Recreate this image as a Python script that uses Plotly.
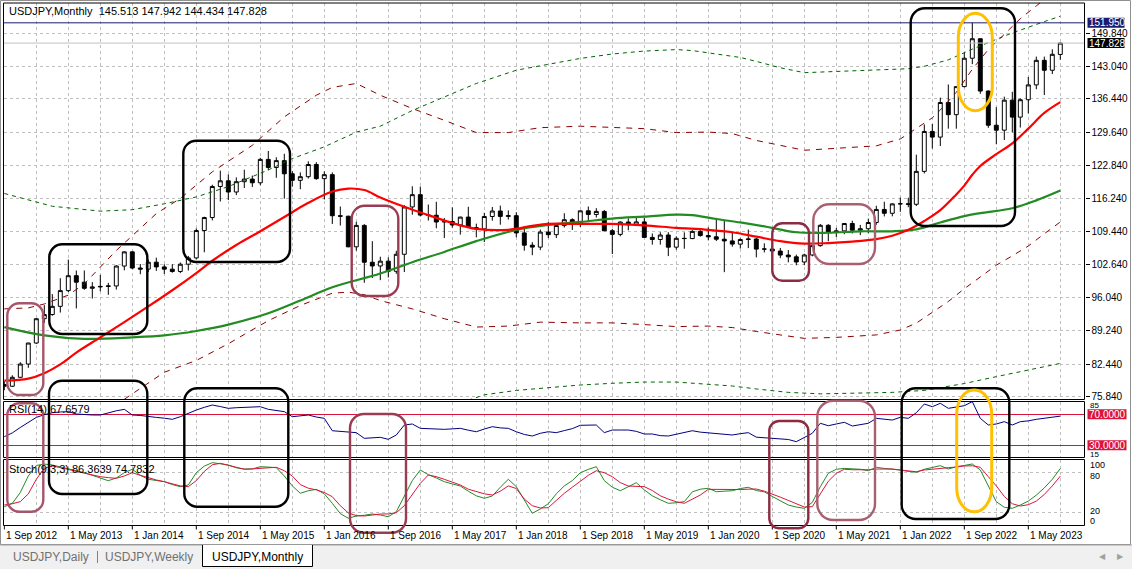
import plotly.graph_objects as go

W, H = 1132, 569

# ---------------- data (monthly USDJPY, Sep 2012 .. Sep 2023) ----------------
opens = [78.30, 77.95, 79.77, 82.47, 86.75, 91.70, 92.55, 94.22, 97.42, 100.46,
         99.14, 97.89, 98.17, 98.27, 98.37, 102.43, 105.31, 102.02, 101.80, 103.21,
         102.25, 101.79, 101.32, 102.80, 104.08, 109.65, 112.30, 118.63, 119.78, 117.50,
         119.60, 120.13, 119.38, 124.14, 122.50, 123.89, 121.21, 119.88, 120.62, 123.10,
         120.22, 121.03, 112.67, 112.57, 106.34, 110.70, 103.20, 102.44, 103.42, 101.35,
         104.82, 114.46, 116.96, 112.80, 112.77, 111.39, 111.49, 110.78, 112.39, 110.26,
         109.99, 112.51, 113.63, 112.53, 112.68, 109.17, 106.67, 106.28, 109.34, 108.81,
         110.67, 111.86, 111.03, 113.67, 112.93, 113.55, 109.61, 108.87, 111.38, 110.84,
         111.41, 108.26, 107.83, 108.74, 106.27, 108.07, 108.02, 109.48, 108.63, 108.38,
         107.89, 107.54, 106.89, 107.83, 107.93, 105.87, 105.89, 105.48, 104.66, 104.30,
         103.25, 104.68, 106.58, 110.72, 109.31, 109.58, 111.09, 109.71, 110.02, 111.29,
         113.95, 113.17, 115.08, 115.11, 115.00, 121.70, 129.83, 128.68, 135.72, 133.25,
         138.96, 144.74, 148.71, 138.06, 131.10, 130.09, 136.20, 132.75, 136.29, 139.31,
         144.31, 142.29, 145.513]
highs = [78.95, 80.19, 82.84, 86.79, 91.76, 94.45, 96.71, 99.95, 103.74, 101.51,
         101.53, 99.15, 100.62, 99.00, 102.58, 105.41, 105.44, 102.84, 103.76, 104.13,
         102.79, 102.80, 103.15, 104.49, 110.09, 112.47, 118.98, 121.85, 121.10, 120.48,
         122.04, 120.84, 124.46, 125.85, 124.58, 125.28, 121.75, 121.49, 123.75, 123.58,
         121.69, 121.49, 114.55, 112.68, 111.44, 110.95, 107.49, 104.32, 104.18, 105.54,
         114.83, 118.66, 118.60, 114.95, 115.51, 112.20, 114.37, 112.47, 114.49, 111.05,
         113.26, 114.45, 114.73, 113.75, 113.39, 110.48, 107.29, 109.85, 111.40, 110.90,
         113.18, 112.15, 113.70, 114.55, 114.21, 113.83, 110.00, 111.52, 112.14, 112.40,
         112.25, 109.05, 109.32, 109.32, 108.48, 109.29, 109.73, 109.72, 110.30, 112.23,
         111.71, 109.38, 108.08, 109.85, 108.16, 107.05, 106.55, 106.11, 105.68, 104.75,
         104.94, 106.69, 110.97, 110.96, 110.20, 111.11, 111.66, 110.80, 112.08, 114.70,
         115.52, 115.20, 116.35, 116.34, 125.10, 131.26, 131.35, 136.71, 139.39, 139.08,
         145.90, 151.95, 148.82, 138.18, 134.77, 136.92, 137.91, 136.56, 140.93, 145.07,
         145.07, 146.56, 147.942]
lows = [77.13, 77.81, 79.66, 81.70, 86.55, 90.85, 92.30, 92.96, 97.11, 93.79,
        97.58, 95.81, 97.28, 96.56, 97.63, 101.55, 101.78, 100.76, 101.20, 101.43,
        100.82, 101.07, 100.98, 101.51, 103.76, 105.23, 111.72, 115.57, 115.86, 116.87,
        118.32, 118.53, 118.88, 121.93, 120.40, 116.15, 118.60, 118.07, 120.25, 119.99,
        115.98, 110.99, 110.67, 106.25, 105.55, 99.02, 99.99, 99.55, 100.09, 100.84,
        101.20, 112.88, 112.53, 111.69, 110.11, 108.13, 110.24, 108.82, 110.20, 108.27,
        107.32, 111.66, 110.84, 111.89, 108.28, 105.55, 104.63, 105.66, 108.11, 108.12,
        110.27, 109.78, 110.38, 111.37, 112.30, 109.55, 104.87, 108.49, 109.70, 110.80,
        108.25, 106.78, 106.78, 104.45, 105.74, 105.94, 107.89, 108.42, 107.65, 107.52,
        101.18, 106.36, 105.99, 106.07, 104.19, 105.20, 104.00, 104.03, 103.18, 102.59,
        102.59, 104.41, 106.36, 107.48, 108.34, 108.91, 109.06, 108.72, 109.11, 110.82,
        112.53, 112.55, 113.47, 114.41, 114.65, 121.28, 126.36, 126.86, 130.40, 130.39,
        138.80, 143.53, 137.50, 130.57, 127.22, 128.08, 129.64, 130.63, 133.50, 138.43,
        137.24, 141.51, 144.434]
closes = [77.95, 79.77, 82.47, 86.75, 91.70, 92.55, 94.22, 97.42, 100.46, 99.14,
          97.89, 98.17, 98.27, 98.37, 102.43, 105.31, 102.02, 101.80, 103.21, 102.25,
          101.79, 101.32, 102.80, 104.08, 109.65, 112.30, 118.63, 119.78, 117.50, 119.60,
          120.13, 119.38, 124.14, 122.50, 123.89, 121.21, 119.88, 120.62, 123.10, 120.22,
          121.03, 112.67, 112.57, 106.34, 110.70, 103.20, 102.44, 103.42, 101.35, 104.82,
          114.46, 116.96, 112.80, 112.77, 111.39, 111.49, 110.78, 112.39, 110.26, 109.99,
          112.51, 113.63, 112.53, 112.68, 109.17, 106.67, 106.28, 109.34, 108.81, 110.67,
          111.86, 111.03, 113.67, 112.93, 113.55, 109.61, 108.87, 111.38, 110.84, 111.41,
          108.26, 107.83, 108.74, 106.27, 108.07, 108.02, 109.48, 108.63, 108.38, 107.89,
          107.54, 106.89, 107.83, 107.93, 105.87, 105.89, 105.48, 104.66, 104.30, 103.25,
          104.68, 106.58, 110.72, 109.31, 109.58, 111.09, 109.71, 110.02, 111.29, 113.95,
          113.17, 115.08, 115.11, 115.00, 121.70, 129.83, 128.68, 135.72, 133.25, 138.96,
          144.74, 148.71, 138.06, 131.10, 130.09, 136.20, 132.75, 136.29, 139.31, 144.31,
          142.29, 145.54, 147.828]
bars = list(range(len(closes)))

# moving averages / envelopes: (bar index, value)
red_ma_idx = [0, 3, 5, 7, 9, 12, 15, 18, 21, 24, 26, 29, 32, 35, 38, 41, 43, 45, 47, 50, 53, 56, 59, 63,
              66, 68, 72, 76, 80, 84, 88, 91, 94, 97, 100, 103, 106, 109, 111, 113, 115, 117, 119,
              120, 121, 122, 124, 126, 128, 130, 132]
red_ma_val = [79.1, 79.5, 80.6, 82.4, 84.8, 87.9, 91.0, 94.2, 97.5, 101.0, 103.5, 106.7, 109.5, 112.4,
              115.3, 117.6, 118.2, 117.9, 116.4, 114.5, 112.8, 111.2, 110.0, 109.8, 110.6, 111.0, 111.0,
              111.0, 110.7, 110.2, 109.8, 109.3, 108.4, 107.5, 107.0, 107.1, 107.4, 107.9, 108.6, 109.8,
              111.6, 113.8, 117.0, 118.8, 121.0, 122.8, 125.2, 127.4, 130.4, 133.6, 135.8]
green_ma_idx = [0, 5, 10, 16, 20, 24, 28, 33, 37, 41, 47, 51, 55, 59, 64, 68, 72, 76, 80, 84, 86, 89, 92,
                95, 99, 103, 107, 111, 114, 117, 120, 122, 126, 129, 132]
green_ma_val = [90.0, 88.3, 87.6, 87.9, 88.3, 89.2, 90.5, 92.8, 95.4, 98.1, 100.9, 103.2, 105.3, 107.5,
                109.8, 110.8, 111.4, 112.1, 112.5, 112.9, 112.8, 112.0, 111.3, 110.5, 109.3, 109.2, 109.5,
                109.5, 109.9, 111.3, 112.6, 113.2, 114.2, 115.8, 117.8]
env_up_idx = [0, 3, 5, 8, 10, 14, 19, 22, 26, 31, 35, 39, 41, 44, 47, 51, 55, 59, 63, 67, 72, 76, 80, 84,
              88, 91, 94, 97, 100, 104, 109, 112, 114, 116, 117, 119, 121, 123, 125, 127, 129, 130]
env_up_val = [93.7, 93.9, 94.7, 96.5, 98.8, 105.6, 113.1, 116.2, 121.6, 127.0, 132.8, 137.2, 138.8, 139.6,
              137.2, 134.5, 132.1, 129.6, 129.6, 130.6, 130.9, 130.6, 130.4, 129.6, 129.7, 129.4, 128.0,
              127.0, 126.0, 126.4, 126.9, 128.3, 130.5, 132.6, 134.2, 137.8, 142.5, 146.5, 149.6, 152.8,
              155.4, 156.7]
env_dn_idx = [15, 17, 20, 24, 28, 30, 33, 37, 41, 43, 45, 47, 51, 55, 59, 63, 67, 72, 76, 80, 84, 88, 91,
              94, 97, 100, 104, 109, 112, 114, 116, 118, 120, 122, 124, 126, 128, 130, 132]
env_dn_val = [75.3, 77.5, 80.8, 83.2, 86.6, 88.5, 91.3, 94.4, 96.9, 97.1, 96.6, 95.4, 93.7, 91.7, 90.0,
              90.2, 91.0, 90.85, 90.85, 90.5, 90.1, 90.2, 89.9, 89.1, 88.4, 87.7, 87.9, 88.4, 89.4, 90.8,
              93.0, 95.2, 97.8, 100.2, 102.6, 104.5, 106.5, 109.0, 111.4]
band_up_idx = [0, 6, 12, 16, 20, 24, 28, 33, 36, 40, 44, 47, 51, 55, 59, 64, 68, 72, 76, 80, 84, 86, 89,
               92, 94, 97, 100, 104, 109, 113, 115, 118, 121, 126, 130, 132]
band_up_val = [117.2, 114.6, 113.6, 113.9, 115.1, 116.5, 118.6, 122.0, 124.3, 126.7, 129.7, 130.9, 134.1,
               136.9, 139.6, 142.3, 143.5, 144.7, 145.6, 146.2, 146.5, 146.3, 145.6, 144.9, 144.1, 142.8,
               141.8, 142.0, 142.4, 142.6, 143.1, 144.4, 146.6, 149.9, 152.2, 153.3]
band_dn_idx = [58, 60, 64, 68, 72, 76, 80, 84, 88, 91, 94, 98, 102, 107, 111, 115, 118, 120, 124, 128, 132]
band_dn_val = [75.1, 76.2, 77.1, 77.7, 78.2, 78.55, 78.8, 78.8, 78.4, 78.0, 77.4, 76.7, 76.4, 76.6, 76.7,
               77.1, 77.9, 78.5, 79.9, 81.2, 82.6]

rsi = [41.1, 46.0, 53.0, 60.0, 66.0, 69.5, 72.0, 73.0, 73.4, 70.4,
       69.5, 69.1, 69.1, 72.1, 74.5, 76.4, 69.1, 68.5, 67.0, 66.0,
       65.0, 63.5, 66.9, 71.3, 75.5, 79.0, 82.0, 80.0, 77.7, 78.5,
       79.0, 79.5, 79.8, 76.4, 74.5, 73.4, 66.9, 68.0, 69.1, 66.5,
       64.8, 48.8, 48.0, 47.5, 46.3, 39.0, 39.5, 40.3, 37.7, 43.3,
       56.2, 57.5, 51.9, 51.5, 51.0, 50.6, 51.2, 51.9, 49.5, 47.5,
       51.0, 54.0, 52.5, 51.9, 47.5, 44.0, 42.0, 45.5, 47.5, 46.3,
       49.0, 51.5, 55.8, 56.2, 56.2, 46.3, 49.7, 49.7, 49.7, 48.0,
       44.6, 44.6, 42.5, 42.0, 44.0, 46.0, 48.8, 47.0, 46.3, 45.5,
       44.5, 43.3, 45.0, 46.3, 40.5, 39.8, 39.5, 38.5, 37.5, 34.7,
       40.0, 45.5, 58.4, 55.3, 57.5, 59.7, 54.9, 57.0, 58.4, 64.8,
       63.5, 62.6, 66.1, 64.8, 72.0, 83.3, 79.8, 84.2, 77.7, 79.8,
       81.1, 86.3, 64.8, 56.2, 57.5, 60.5, 56.2, 60.5, 61.5, 63.5,
       64.8, 66.9, 67.6579]
stoch_k = [28.5, 33.6, 50.0, 75.0, 91.0, 93.0, 91.7, 89.0, 86.5, 83.0,
           80.0, 76.0, 72.0, 67.9, 72.0, 80.0, 85.2, 76.0, 70.0, 68.0,
           66.4, 62.0, 58.8, 61.4, 80.0, 90.0, 95.2, 93.5, 91.7, 87.5,
           85.6, 85.6, 89.1, 88.5, 87.6, 75.0, 60.0, 48.8, 52.7, 54.8,
           48.0, 33.6, 18.0, 11.0, 14.4, 15.5, 17.4, 15.9, 13.3, 20.9,
           45.0, 68.0, 84.1, 77.0, 72.0, 66.4, 63.0, 59.8, 52.0, 45.0,
           41.2, 44.7, 58.0, 70.0, 58.8, 38.0, 18.5, 25.0, 33.0, 48.0,
           60.0, 68.0, 80.0, 85.0, 89.1, 68.0, 58.0, 52.7, 59.0, 64.8,
           54.0, 45.0, 39.0, 33.6, 34.5, 36.1, 51.0, 55.0, 56.4, 51.2,
           52.0, 52.7, 56.0, 57.9, 53.0, 51.0, 44.0, 38.0, 31.0, 28.0,
           26.0, 35.0, 58.8, 79.1, 85.2, 86.5, 86.2, 85.2, 83.0, 88.2,
           86.5, 85.6, 84.1, 82.0, 80.6, 85.2, 88.0, 90.6, 85.6, 89.1,
           91.0, 93.2, 84.1, 58.8, 36.1, 27.6, 26.0, 31.0, 37.0, 46.0,
           57.0, 70.0, 86.3639]
stoch_d = [31.1, 33.0, 36.1, 48.0, 70.0, 86.7, 90.2, 88.0, 85.0, 82.0,
           79.0, 76.5, 74.0, 72.5, 71.5, 75.0, 80.0, 76.0, 72.0, 69.0,
           66.4, 63.0, 60.0, 58.8, 68.0, 82.0, 92.0, 94.2, 91.0, 88.0,
           85.2, 85.8, 86.7, 87.5, 88.2, 83.0, 75.0, 62.0, 56.5, 54.0,
           50.0, 43.6, 30.0, 19.0, 15.0, 14.4, 16.0, 17.4, 17.5, 19.4,
           30.0, 47.0, 63.9, 76.5, 74.0, 70.0, 66.0, 61.4, 55.0, 51.2,
           48.0, 46.2, 52.0, 60.0, 56.0, 40.0, 30.0, 26.5, 27.0, 38.0,
           48.8, 58.0, 67.0, 76.0, 83.0, 80.0, 73.9, 65.0, 59.8, 59.3,
           58.8, 53.0, 45.0, 40.0, 36.0, 33.6, 40.0, 46.2, 54.8, 54.5,
           54.0, 53.8, 54.5, 55.0, 55.3, 52.0, 48.0, 43.0, 38.0, 33.0,
           28.0, 28.5, 48.0, 67.0, 79.1, 85.2, 84.5, 84.1, 84.5, 85.5,
           86.0, 85.6, 84.0, 82.5, 81.5, 84.1, 85.5, 87.0, 87.6, 88.5,
           90.2, 90.5, 88.2, 73.9, 60.0, 44.0, 33.0, 29.5, 31.5, 37.0,
           47.0, 60.0, 74.7832]

price_ticks = [75.84, 82.44, 89.24, 96.04, 102.64, 109.44, 116.24, 122.84, 129.64, 136.44, 143.04, 149.84]
date_tick_idx = list(range(0, 129, 8))
date_tick_labels = ["1 Sep 2012", "1 May 2013", "1 Jan 2014", "1 Sep 2014", "1 May 2015", "1 Jan 2016",
                    "1 Sep 2016", "1 May 2017", "1 Jan 2018", "1 Sep 2018", "1 May 2019", "1 Jan 2020",
                    "1 Sep 2020", "1 May 2021", "1 Jan 2022", "1 Sep 2022", "1 May 2023"]
hline_level = 151.95
last_close = 147.828
rsi_levels = [70, 30]
stoch_levels = [80, 20]

# ---------------- geometry helpers ----------------
def X(px):
    return px / W

def Y(py):
    return 1 - py / H

PL, PR = 3.5, 1084.5
MAIN_T, MAIN_B = 3.0, 399.5
RSI_T, RSI_B = 401.5, 457.5
STO_T, STO_B = 459.5, 525.5

def price_at(py):
    return 75.84 + (396.6 - py) / 4.911

def rsi_at(py):
    return 70 - (py - 414.3) / 0.775

def bar_at(px):
    return (px - 4.3) / 8.0

def price_y(p):
    return 396.6 - (p - 75.84) * 4.911

def rsi_y(v):
    return 414.3 - (v - 70) * 0.775

FONT = "Liberation Sans, Arial, sans-serif"

fig = go.Figure()

fig.add_trace(go.Candlestick(
    x=bars, open=opens, high=highs, low=lows, close=closes,
    increasing=dict(line=dict(color="black", width=1), fillcolor="white"),
    decreasing=dict(line=dict(color="black", width=1), fillcolor="black"),
    whiskerwidth=0, xaxis="x", yaxis="y", showlegend=False, hoverinfo="skip"))

fig.add_trace(go.Scatter(x=band_up_idx, y=band_up_val, mode="lines",
                         line=dict(color="#006400", width=1, dash="4px,4px"), xaxis="x", yaxis="y"))
fig.add_trace(go.Scatter(x=band_dn_idx, y=band_dn_val, mode="lines",
                         line=dict(color="#006400", width=1, dash="4px,4px"), xaxis="x", yaxis="y"))
fig.add_trace(go.Scatter(x=env_up_idx, y=env_up_val, mode="lines",
                         line=dict(color="#8b0000", width=1, dash="6px,6px"), xaxis="x", yaxis="y"))
fig.add_trace(go.Scatter(x=env_dn_idx, y=env_dn_val, mode="lines",
                         line=dict(color="#8b0000", width=1, dash="6px,6px"), xaxis="x", yaxis="y"))
fig.add_trace(go.Scatter(x=green_ma_idx, y=green_ma_val, mode="lines", line_shape="spline",
                         line=dict(color="#228b22", width=2.2), xaxis="x", yaxis="y"))
fig.add_trace(go.Scatter(x=red_ma_idx, y=red_ma_val, mode="lines", line_shape="spline",
                         line=dict(color="#ff0000", width=2.2), xaxis="x", yaxis="y"))

fig.add_trace(go.Scatter(x=bars, y=rsi, mode="lines", line=dict(color="#000080", width=1),
                         xaxis="x", yaxis="y2"))
fig.add_trace(go.Scatter(x=bars, y=stoch_k, mode="lines", line=dict(color="#228b22", width=1),
                         xaxis="x", yaxis="y3"))
fig.add_trace(go.Scatter(x=bars, y=stoch_d, mode="lines", line=dict(color="#dc143c", width=1),
                         xaxis="x", yaxis="y3"))

GRID = "#c0c0c0"
fig.update_layout(
    width=W, height=H, margin=dict(l=0, r=0, t=0, b=0),
    paper_bgcolor="white", plot_bgcolor="white", showlegend=False,
    hovermode=False,
    xaxis=dict(domain=[X(PL), X(PR)], range=[bar_at(PL), bar_at(PR)], anchor="y3",
               tickmode="array", tickvals=list(range(0, 136, 4)), showticklabels=False, ticks="",
               showgrid=True, gridcolor=GRID, griddash="3px,3px", gridwidth=1,
               zeroline=False, showline=False, rangeslider=dict(visible=False), fixedrange=True),
    yaxis=dict(domain=[Y(MAIN_B), Y(MAIN_T)], range=[price_at(MAIN_B), price_at(MAIN_T)],
               side="right", anchor="x", tickmode="array", tickvals=price_ticks,
               ticktext=[f"{v:.3f}" for v in price_ticks], ticks="outside", ticklen=4,
               tickcolor="black", tickfont=dict(family=FONT, size=10, color="black"),
               showgrid=True, gridcolor=GRID, griddash="3px,3px", zeroline=False,
               showline=False, automargin=False),
    yaxis2=dict(domain=[Y(RSI_B), Y(RSI_T)], range=[rsi_at(RSI_B), rsi_at(RSI_T)], side="right",
                anchor="x", tickmode="array", tickvals=rsi_levels, showticklabels=False, ticks="",
                showgrid=True, gridcolor="#dc143c", gridwidth=1, zeroline=False, automargin=False),
    yaxis3=dict(domain=[Y(STO_B), Y(STO_T)], range=[0, 100], side="right", anchor="x",
                tickmode="array", tickvals=stoch_levels, showticklabels=False, ticks="",
                showgrid=True, gridcolor=GRID, griddash="3px,3px", zeroline=False, automargin=False),
)

shapes = []
# horizontal price lines
shapes.append(dict(type="line", xref="paper", yref="y", x0=X(PL), x1=X(PR), y0=hline_level,
                   y1=hline_level, line=dict(color="#1c1c6e", width=1)))
shapes.append(dict(type="line", xref="paper", yref="y", x0=X(PL), x1=X(PR), y0=last_close,
                   y1=last_close, line=dict(color="#c0c0c0", width=1)))
# panel frames
for t, b in [(MAIN_T, MAIN_B), (RSI_T, RSI_B), (STO_T, STO_B)]:
    shapes.append(dict(type="rect", xref="paper", yref="paper", x0=X(PL), x1=X(PR), y0=Y(b), y1=Y(t),
                       line=dict(color="black", width=1)))
# outer window frame
shapes.append(dict(type="rect", xref="paper", yref="paper", x0=X(0.5), x1=X(1130.5), y0=Y(544.5),
                   y1=Y(0.5), line=dict(color="#909090", width=1)))
# date tick marks
for i in date_tick_idx:
    shapes.append(dict(type="line", xref="x", yref="paper", x0=i, x1=i, y0=Y(STO_B), y1=Y(STO_B + 4),
                       line=dict(color="black", width=1)))

# value boxes on the right scale
def box(yc, x1, color):
    return dict(type="rect", xref="paper", yref="paper", x0=X(1087.5), x1=X(x1), y0=Y(yc + 5),
                y1=Y(yc - 5), fillcolor=color, line=dict(width=0), layer="above")

shapes.append(box(price_y(hline_level), 1124.5, "#1c1c6e"))
shapes.append(box(price_y(last_close), 1124.5, "#000000"))
shapes.append(box(rsi_y(70), 1126.5, "#dc143c"))
shapes.append(box(rsi_y(30), 1126.5, "#dc143c"))

# highlight frames (pixel geometry)
def rrect(x0, y0, x1, y1, rx, ry, color, width):
    k = 0.45
    pts = (f"M {X(x0 + rx)},{Y(y0)} L {X(x1 - rx)},{Y(y0)} "
           f"C {X(x1 - rx * k)},{Y(y0)} {X(x1)},{Y(y0 + ry * k)} {X(x1)},{Y(y0 + ry)} "
           f"L {X(x1)},{Y(y1 - ry)} "
           f"C {X(x1)},{Y(y1 - ry * k)} {X(x1 - rx * k)},{Y(y1)} {X(x1 - rx)},{Y(y1)} "
           f"L {X(x0 + rx)},{Y(y1)} "
           f"C {X(x0 + rx * k)},{Y(y1)} {X(x0)},{Y(y1 - ry * k)} {X(x0)},{Y(y1 - ry)} "
           f"L {X(x0)},{Y(y0 + ry)} "
           f"C {X(x0)},{Y(y0 + ry * k)} {X(x0 + rx * k)},{Y(y0)} {X(x0 + rx)},{Y(y0)} Z")
    return dict(type="path", xref="paper", yref="paper", path=pts,
                line=dict(color=color, width=width), layer="above")

BLACK, MAR1, MAR2, MAR3, MAR4, GOLD = "#000000", "#a5566a", "#9a3c52", "#8b2c42", "#a86070", "#ffc000"
frames = [
    (49.3, 244.3, 147.3, 334.0, 13, 13, BLACK, 2.4),
    (183.3, 140.7, 290.0, 262.0, 13, 13, BLACK, 2.4),
    (910.7, 8.3, 1015.0, 226.0, 14, 14, BLACK, 2.4),
    (49.0, 380.7, 147.3, 494.0, 13, 13, BLACK, 2.4),
    (184.3, 388.3, 288.3, 506.7, 13, 13, BLACK, 2.4),
    (901.7, 388.3, 1009.3, 519.0, 14, 14, BLACK, 2.4),
    (7.3, 303.3, 43.3, 395.0, 12, 12, MAR1, 2.4),
    (7.3, 403.3, 43.3, 511.7, 12, 12, MAR1, 2.4),
    (351.7, 205.7, 398.3, 296.0, 13, 13, MAR2, 2.4),
    (350.0, 414.0, 406.0, 532.7, 14, 14, MAR2, 2.4),
    (772.3, 223.3, 809.0, 280.7, 10, 10, MAR3, 2.4),
    (769.3, 421.0, 808.3, 528.3, 10, 10, MAR3, 2.4),
    (813.3, 204.3, 875.0, 264.0, 16, 16, MAR4, 2.4),
    (817.3, 400.7, 875.0, 520.0, 16, 16, MAR4, 2.4),
    (958.3, 13.3, 992.3, 110.7, 17, 24, GOLD, 3),
    (956.7, 390.0, 991.7, 511.7, 17, 24, GOLD, 3),
]
for f in frames:
    shapes.append(rrect(*f))

# tab strip
shapes.append(dict(type="rect", xref="paper", yref="paper", x0=0, x1=1, y0=0, y1=Y(545),
                   fillcolor="#f0f0f0", line=dict(width=0)))
shapes.append(dict(type="line", xref="paper", yref="paper", x0=0, x1=1, y0=Y(545), y1=Y(545),
                   line=dict(color="#a0a0a0", width=1)))
shapes.append(dict(type="rect", xref="paper", yref="paper", x0=X(202), x1=X(312), y0=Y(566), y1=Y(545),
                   fillcolor="white", line=dict(width=0)))
shapes.append(dict(type="path", xref="paper", yref="paper",
                   path=f"M {X(202.5)},{Y(545)} L {X(202.5)},{Y(566.5)} L {X(312.5)},{Y(566.5)} L {X(312.5)},{Y(545)}",
                   line=dict(color="black", width=1)))
shapes.append(dict(type="line", xref="paper", yref="paper", x0=X(97.5), x1=X(97.5), y0=Y(563), y1=Y(551),
                   line=dict(color="#808080", width=1)))

fig.update_layout(shapes=shapes)

ann = []
def txt(x, y, s, size=10, color="black", anchor="left", family=FONT, pad=1, xshift=0):
    ann.append(dict(x=x, y=Y(y), xref="paper", yref="paper", text=s, showarrow=False,
                    xanchor=anchor, yanchor="middle", borderpad=pad, xshift=xshift,
                    font=dict(family=family, size=size, color=color)))

txt(X(7), 11, f"USDJPY,Monthly&nbsp;&nbsp;{opens[-1]:.3f} {highs[-1]:.3f} {lows[-1]:.3f} {closes[-1]:.3f}", size=11)
txt(X(7), 409, f"RSI(14) {rsi[-1]:.4f}", size=11)
txt(X(7), 469, f"Stoch(9,3,3) {stoch_k[-1]:.4f} {stoch_d[-1]:.4f}", size=11)
for i, lab in zip(date_tick_idx, date_tick_labels):
    ann.append(dict(x=i, y=Y(535.5), xref="x", yref="paper", text=lab, showarrow=False, xanchor="left",
                    yanchor="middle", font=dict(family=FONT, size=10, color="black")))
txt(X(1087.5), price_y(hline_level), f"{hline_level:.3f}", color="white", pad=0)
txt(X(1087.5), price_y(last_close), f"{last_close:.3f}", color="white", pad=0)
txt(X(1087.5), rsi_y(70), "70.0000", color="white", pad=0)
txt(X(1087.5), rsi_y(30), "30.0000", color="white", pad=0)
txt(X(1089), 405.0, "85", size=8, pad=0)
txt(X(1089), 454.5, "15", size=8, pad=0)
txt(X(1089), 465.0, "100", size=9, pad=0)
txt(X(1089), 475.5, "80", size=9, pad=0)
txt(X(1089), 510.5, "20", size=9, pad=0)
txt(X(1089), 520.5, "0", size=9, pad=0)
txt(X(51), 557, "USDJPY,Daily", size=12, color="#707070", anchor="center")
txt(X(149), 557, "USDJPY,Weekly", size=12, color="#707070", anchor="center")
txt(X(257), 557, "USDJPY,Monthly", size=12, color="black", anchor="center")
txt(X(1102), 556, "◀", size=8, color="#a0a0a0", anchor="center", family="DejaVu Sans")
txt(X(1120), 556, "▶", size=8, color="#a0a0a0", anchor="center", family="DejaVu Sans")
fig.update_layout(annotations=ann)

fig.write_html("out.html")
